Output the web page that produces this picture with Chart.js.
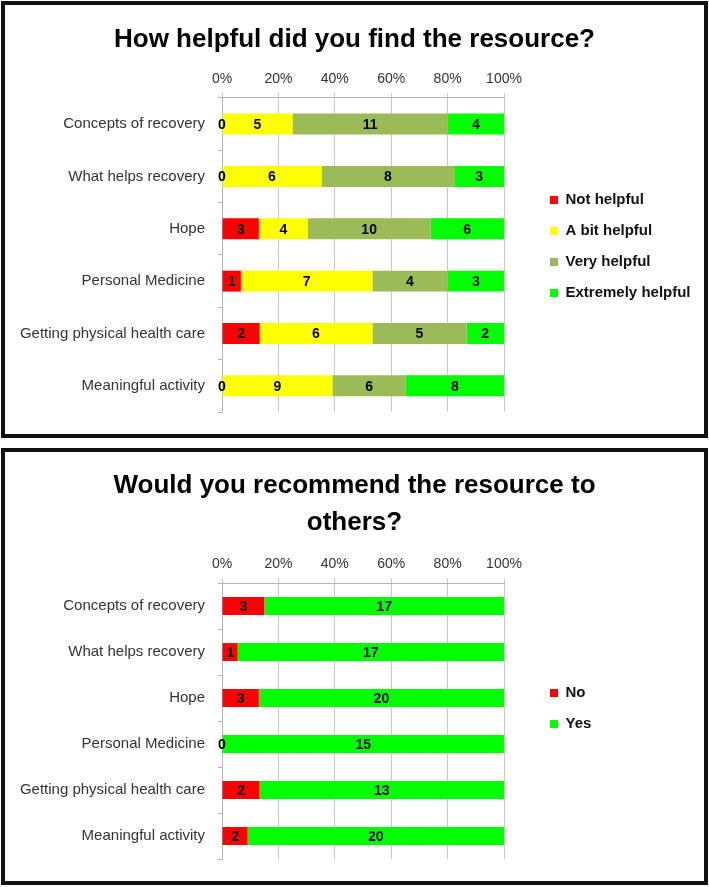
<!DOCTYPE html>
<html>
<head>
<meta charset="utf-8">
<script src="https://cdn.jsdelivr.net/npm/chart.js@4"></script>
<style>
  body { margin: 0; background: #fff; }
  .box { position: absolute; left: 1px; width: 707px; height: 437px; border: 4px solid #111; box-sizing: border-box; background: #fff; }
  #box1 { top: 1px; }
  #box2 { top: 448px; }
  canvas { display: block; }
</style>
</head>
<body>
<div class="box" id="box1"><canvas id="helpChart" width="699" height="429"></canvas></div>
<div class="box" id="box2"><canvas id="recChart" width="699" height="429"></canvas></div>
<script>
const categories = ["Concepts of recovery", "What helps recovery", "Hope", "Personal Medicine", "Getting physical health care", "Meaningful activity"];
const tickValues = [0, 20, 40, 60, 80, 100];

// chart 1 - counts per answer
const helpLabels = ["Not helpful", "A bit helpful", "Very helpful", "Extremely helpful"];
const notHelpful = [0, 0, 3, 1, 2, 0];
const bitHelpful = [5, 6, 4, 7, 6, 9];
const veryHelpful = [11, 8, 10, 4, 5, 6];
const extremelyHelpful = [4, 3, 6, 3, 2, 8];

// chart 2
const recLabels = ["No", "Yes"];
const recNo = [3, 1, 3, 0, 2, 2];
const recYes = [17, 17, 20, 15, 13, 20];

Chart.defaults.font.family = '"Liberation Sans", Arial, sans-serif';

function toPercent(list) {
  return list.map((s) => s.map((v, i) => {
    let total = 0;
    list.forEach((t) => { total += t[i]; });
    return v / total * 100;
  }));
}

const countLabels = {
  id: "countLabels",
  afterDatasetsDraw(chart) {
    const ctx = chart.ctx;
    ctx.save();
    ctx.font = 'bold 14px "Liberation Sans", Arial, sans-serif';
    ctx.fillStyle = "#000";
    ctx.textAlign = "center";
    ctx.textBaseline = "middle";
    chart.data.datasets.forEach((ds, di) => {
      chart.getDatasetMeta(di).data.forEach((bar, i) => {
        const p = bar.getCenterPoint();
        ctx.fillText(ds.counts[i], p.x, p.y + 1);
      });
    });
    ctx.restore();
  }
};

// fixed legend width + vertical shift
function legendPlace(width, shift) {
  return {
    id: "legendPlace",
    beforeUpdate(chart) {
      const lg = chart.legend;
      if (lg && !lg.fixedFit) {
        const fit = lg.fit;
        lg.fit = function () { fit.call(this); this.width = width; };
        lg.fixedFit = true;
      }
    },
    afterLayout(chart) {
      chart.legend.top += shift;
      chart.legend.bottom += shift;
    }
  };
}

function makeChart(id, seriesNames, counts, colors, title, titlePad, barPct, shift) {
  const pct = toPercent(counts);
  return new Chart(document.getElementById(id), {
    type: "bar",
    data: {
      labels: categories,
      datasets: seriesNames.map((name, k) => ({
        label: name,
        data: pct[k],
        counts: counts[k],
        backgroundColor: colors[k],
        borderWidth: 0,
        barPercentage: barPct,
        categoryPercentage: 1,
        xAxisID: "x",
        yAxisID: "y",
      })),
    },
    options: {
      indexAxis: "y",
      responsive: false,
      animation: false,
      layout: { padding: { left: 0, right: 0, top: 0, bottom: 18 } },
      scales: {
        x: {
          position: "top",
          stacked: true,
          min: 0,
          max: 100,
          afterBuildTicks(s) { s.ticks = tickValues.map((v) => ({ value: v })); },
          ticks: { padding: 5, color: "#333", font: { size: 14 }, callback: (v) => v + "%" },
          grid: { color: "#c8c8c8", tickLength: 5 },
          border: { color: "#b4b4b4" },
          afterFit(s) { s.height = 34; },
        },
        y: {
          stacked: true,
          ticks: { padding: 13, color: "#333", font: { size: 15 } },
          grid: { offset: true, drawOnChartArea: false, tickLength: 4, color: "#b4b4b4" },
          border: { color: "#b4b4b4" },
          afterFit(s) { s.width = 217; },
        },
        gap: {
          type: "linear",
          position: "right",
          grid: { display: false },
          ticks: { display: false },
          border: { display: false },
          afterFit(s) { s.width = 30; },
        },
      },
      plugins: {
        title: {
          display: true,
          text: title,
          color: "#000",
          font: { size: 26, weight: "bold", lineHeight: 1.42 },
          padding: titlePad,
        },
        legend: {
          position: "right",
          labels: {
            boxWidth: 8,
            boxHeight: 8,
            padding: 16,
            color: "#111",
            font: { size: 15, weight: "bold" },
          },
        },
        tooltip: { enabled: false },
      },
    },
    plugins: [countLabels, legendPlace(170, shift)],
  });
}

makeChart("helpChart", helpLabels,
  [notHelpful, bitHelpful, veryHelpful, extremelyHelpful],
  ["#ff0000", "#ffff00", "#9bbb59", "#00ff00"],
  "How helpful did you find the resource?",
  { top: 16.5, bottom: 5.5 }, 0.4, 36);

makeChart("recChart", recLabels,
  [recNo, recYes],
  ["#ff0000", "#00ff00"],
  ["Would you recommend the resource to", "others?"],
  { top: 15.5, bottom: 7.7 }, 0.39, 51);
</script>
</body>
</html>
